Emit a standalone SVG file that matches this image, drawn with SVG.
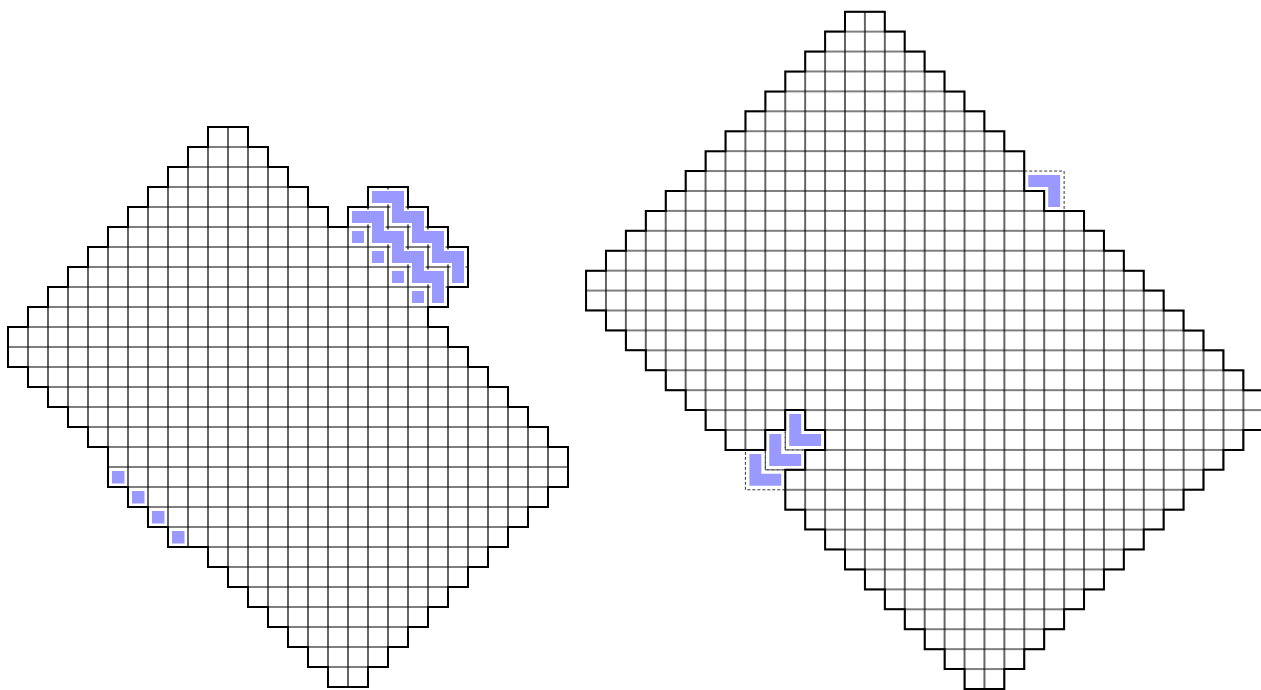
<svg xmlns="http://www.w3.org/2000/svg" width="1261" height="690" viewBox="0 0 1261 690">
<style>
.outline{fill:none;stroke:#000;stroke-width:2;stroke-linejoin:miter}
.halo{fill:none;stroke:#fff;stroke-width:15;stroke-linecap:square;stroke-linejoin:miter}
.band{fill:none;stroke:#9999ff;stroke-width:12;stroke-linecap:square;stroke-linejoin:miter}
.sq{fill:#9999ff;stroke:#fff;stroke-width:3;paint-order:stroke}
.ghost{fill:none;stroke:#333;stroke-width:1;stroke-dasharray:3 2}
</style>
<defs>
<pattern id="grid" patternUnits="userSpaceOnUse" x="0" y="0" width="20" height="20">
<rect width="20" height="20" fill="#fff"/>
<path d="M0 0H20V20H0Z" fill="none" stroke="#000" stroke-width="1.2"/>
</pattern>
</defs>
<rect width="1261" height="690" fill="#fff"/>

<g id="left-shape" transform="translate(8,127)">
<polygon id="left-cells" fill="url(#grid)" points="200,0 240,0 240,20 260,20 260,40 280,40 280,60 300,60 300,80 320,80 320,100 340,100 340,80 360,80 360,60 400,60 400,80 420,80 420,100 440,100 440,120 460,120 460,160 440,160 440,180 420,180 420,200 440,200 440,220 460,220 460,240 480,240 480,260 500,260 500,280 520,280 520,300 540,300 540,320 560,320 560,360 540,360 540,380 520,380 520,400 500,400 500,420 480,420 480,440 460,440 460,460 440,460 440,480 420,480 420,500 400,500 400,520 380,520 380,540 360,540 360,560 320,560 320,540 300,540 300,520 280,520 280,500 260,500 260,480 240,480 240,460 220,460 220,440 200,440 200,420 160,420 160,400 140,400 140,380 120,380 120,360 100,360 100,320 80,320 80,300 60,300 60,280 40,280 40,260 20,260 20,240 0,240 0,200 20,200 20,180 40,180 40,160 60,160 60,140 80,140 80,120 100,120 100,100 120,100 120,80 140,80 140,60 160,60 160,40 180,40 180,20 200,20"/>
<polygon class="outline" points="200,0 240,0 240,20 260,20 260,40 280,40 280,60 300,60 300,80 320,80 320,100 340,100 340,80 360,80 360,60 400,60 400,80 420,80 420,100 440,100 440,120 460,120 460,160 440,160 440,180 420,180 420,200 440,200 440,220 460,220 460,240 480,240 480,260 500,260 500,280 520,280 520,300 540,300 540,320 560,320 560,360 540,360 540,380 520,380 520,400 500,400 500,420 480,420 480,440 460,440 460,460 440,460 440,480 420,480 420,500 400,500 400,520 380,520 380,540 360,540 360,560 320,560 320,540 300,540 300,520 280,520 280,500 260,500 260,480 240,480 240,460 220,460 220,440 200,440 200,420 160,420 160,400 140,400 140,380 120,380 120,360 100,360 100,320 80,320 80,300 60,300 60,280 40,280 40,260 20,260 20,240 0,240 0,200 20,200 20,180 40,180 40,160 60,160 60,140 80,140 80,120 100,120 100,100 120,100 120,80 140,80 140,60 160,60 160,40 180,40 180,20 200,20"/>
<g id="left-band-a">
<polyline class="halo" points="370,70 390,70 390,90 410,90 410,110 430,110 430,130 450,130 450,150"/>
<polyline class="band" points="370,70 390,70 390,90 410,90 410,110 430,110 430,130 450,130 450,150"/>
</g>
<g id="left-band-b">
<polyline class="halo" points="350,90 370,90 370,110 390,110 390,130 410,130 410,150 430,150 430,170"/>
<polyline class="band" points="350,90 370,90 370,110 390,110 390,130 410,130 410,150 430,150 430,170"/>
</g>
<g id="left-singles-top">
<rect class="sq" x="344" y="104" width="12" height="12"/>
<rect class="sq" x="364" y="124" width="12" height="12"/>
<rect class="sq" x="384" y="144" width="12" height="12"/>
<rect class="sq" x="404" y="164" width="12" height="12"/>
</g>
<g id="left-singles-bottom">
<rect class="sq" x="104" y="344" width="12.5" height="12.5"/>
<rect class="sq" x="124" y="364" width="12.5" height="12.5"/>
<rect class="sq" x="144" y="384" width="12.5" height="12.5"/>
<rect class="sq" x="164" y="404" width="12.5" height="12.5"/>
</g>
</g>

<g id="right-shape" transform="translate(845,11.7) scale(0.996)">
<polygon id="right-cells" fill="url(#grid)" points="0,0 40,0 40,20 60,20 60,40 80,40 80,60 100,60 100,80 120,80 120,100 140,100 140,120 160,120 160,140 180,140 180,180 200,180 200,200 240,200 240,220 260,220 260,240 280,240 280,260 300,260 300,280 320,280 320,300 340,300 340,320 360,320 360,340 380,340 380,360 400,360 400,380 420,380 420,420 400,420 400,440 380,440 380,460 360,460 360,480 340,480 340,500 320,500 320,520 300,520 300,540 280,540 280,560 260,560 260,580 240,580 240,600 220,600 220,620 200,620 200,640 180,640 180,660 160,660 160,680 120,680 120,660 100,660 100,640 80,640 80,620 60,620 60,600 40,600 40,580 20,580 20,560 0,560 0,540 -20,540 -20,520 -40,520 -40,500 -60,500 -60,460 -40,460 -40,440 -20,440 -20,420 -40,420 -40,400 -60,400 -60,420 -80,420 -80,440 -120,440 -120,420 -140,420 -140,400 -160,400 -160,380 -180,380 -180,360 -200,360 -200,340 -220,340 -220,320 -240,320 -240,300 -260,300 -260,260 -240,260 -240,240 -220,240 -220,220 -200,220 -200,200 -180,200 -180,180 -160,180 -160,160 -140,160 -140,140 -120,140 -120,120 -100,120 -100,100 -80,100 -80,80 -60,80 -60,60 -40,60 -40,40 -20,40 -20,20 0,20"/>
<g id="ghost-outlines">
<polygon class="ghost" points="180,160 220,160 220,200 200,200 200,180 180,180"/>
<polygon class="ghost" points="-60,400 -40,400 -40,420 -20,420 -20,440 -60,440"/>
<polygon class="ghost" points="-80,420 -60,420 -60,440 -40,440 -40,460 -80,460"/>
<polygon class="ghost" points="-100,440 -80,440 -80,460 -60,460 -60,480 -100,480"/>
</g>
<polygon class="outline" points="0,0 40,0 40,20 60,20 60,40 80,40 80,60 100,60 100,80 120,80 120,100 140,100 140,120 160,120 160,140 180,140 180,180 200,180 200,200 240,200 240,220 260,220 260,240 280,240 280,260 300,260 300,280 320,280 320,300 340,300 340,320 360,320 360,340 380,340 380,360 400,360 400,380 420,380 420,420 400,420 400,440 380,440 380,460 360,460 360,480 340,480 340,500 320,500 320,520 300,520 300,540 280,540 280,560 260,560 260,580 240,580 240,600 220,600 220,620 200,620 200,640 180,640 180,660 160,660 160,680 120,680 120,660 100,660 100,640 80,640 80,620 60,620 60,600 40,600 40,580 20,580 20,560 0,560 0,540 -20,540 -20,520 -40,520 -40,500 -60,500 -60,460 -40,460 -40,440 -20,440 -20,420 -40,420 -40,400 -60,400 -60,420 -80,420 -80,440 -120,440 -120,420 -140,420 -140,400 -160,400 -160,380 -180,380 -180,360 -200,360 -200,340 -220,340 -220,320 -240,320 -240,300 -260,300 -260,260 -240,260 -240,240 -220,240 -220,220 -200,220 -200,200 -180,200 -180,180 -160,180 -160,160 -140,160 -140,140 -120,140 -120,120 -100,120 -100,100 -80,100 -80,80 -60,80 -60,60 -40,60 -40,40 -20,40 -20,20 0,20"/>
<g id="piece-top">
<polyline class="halo" points="190,170 210,170 210,190"/>
<polyline class="band" points="190,170 210,170 210,190"/>
</g>
<g id="piece-1">
<polyline class="halo" points="-50,410 -50,430 -30,430"/>
<polyline class="band" points="-50,410 -50,430 -30,430"/>
</g>
<g id="piece-2">
<polyline class="halo" points="-70,430 -70,450 -50,450"/>
<polyline class="band" points="-70,430 -70,450 -50,450"/>
</g>
<g id="piece-3">
<polyline class="halo" points="-90,450 -90,470 -70,470"/>
<polyline class="band" points="-90,450 -90,470 -70,470"/>
</g>
</g>
</svg>
